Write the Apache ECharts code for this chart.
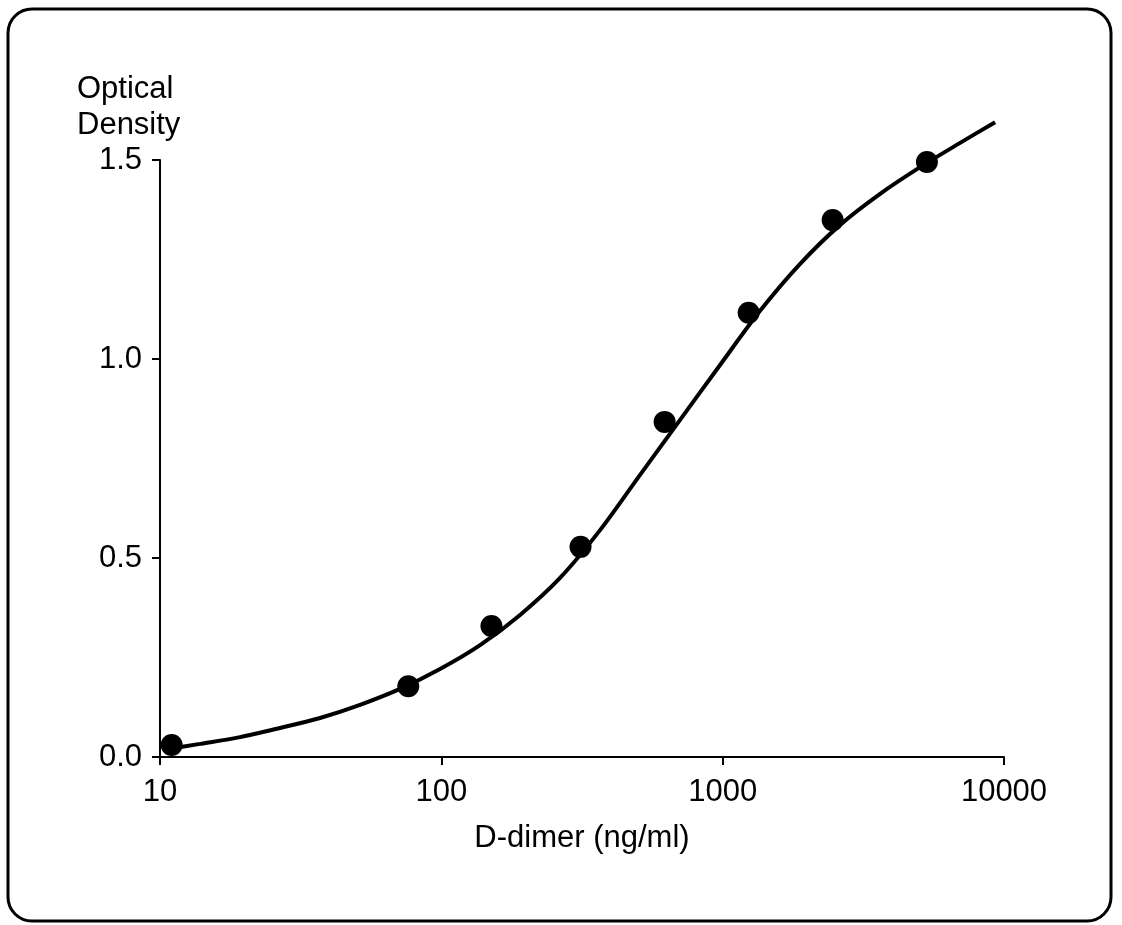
<!DOCTYPE html>
<html>
<head>
<meta charset="utf-8">
<style>
  html, body { margin: 0; padding: 0; background: #ffffff; }
  #chart { width: 1122px; height: 925px; }
</style>
<script src="https://cdn.jsdelivr.net/npm/echarts@6/dist/echarts.min.js"></script>
</head>
<body>
<div id="chart"></div>
<script>
// Measured standards: D-dimer concentration (ng/ml) and optical density
const standardConc = [11.0, 76.3, 150.7, 312.4, 621.9, 1237, 2460, 5321];
const standardOD   = [0.030, 0.178, 0.329, 0.528, 0.842, 1.116, 1.349, 1.495];

// Fitted calibration curve, traced point by point
const curveConc = [10.25, 13.87, 19.25, 26.71, 37.05, 51.41, 71.33, 98.95, 137.3, 190.5, 264.2, 366.6, 508.6, 705.7, 979.0, 1358, 1885, 2615, 3628, 5033, 6983, 9299];
const curveOD   = [0.018, 0.033, 0.050, 0.073, 0.098, 0.131, 0.171, 0.221, 0.281, 0.357, 0.450, 0.570, 0.709, 0.847, 0.985, 1.121, 1.239, 1.337, 1.415, 1.482, 1.543, 1.595];

// Axis ticks
const xTicks = [10, 100, 1000, 10000];
const yTicks = [0, 0.5, 1.0, 1.5];

const FONT = '"Liberation Sans", Arial, Helvetica, sans-serif';
const INK = '#000000';

const chart = echarts.init(document.getElementById('chart'), null, { renderer: 'canvas' });

const pair = (xs, ys) => xs.map((x, i) => [x, ys[i]]);

chart.setOption({
  backgroundColor: '#ffffff',
  animation: false,
  title: {
    text: 'Optical\nDensity',
    left: 72,
    top: 66,
    textStyle: { fontFamily: FONT, fontSize: 31, fontWeight: 'normal', color: INK, lineHeight: 36 }
  },
  graphic: [{
    type: 'rect',
    shape: { x: 8, y: 9, width: 1103, height: 912, r: 24 },
    style: { fill: 'none', stroke: INK, lineWidth: 3 },
    silent: true,
    z: -1
  }],
  grid: { left: 160, right: 118, top: 160, bottom: 168, containLabel: false },
  xAxis: {
    type: 'log',
    logBase: 10,
    min: xTicks[0],
    max: xTicks[xTicks.length - 1],
    name: 'D-dimer (ng/ml)',
    nameLocation: 'middle',
    nameGap: 66,
    nameTextStyle: { fontFamily: FONT, fontSize: 31, color: INK },
    axisLine: { show: true, lineStyle: { color: INK, width: 2 } },
    axisTick: { show: true, length: 8, lineStyle: { color: INK, width: 2 } },
    minorTick: { show: false },
    splitLine: { show: false },
    axisLabel: {
      fontFamily: FONT, fontSize: 31, color: INK, margin: 20,
      formatter: v => String(Math.round(v))
    }
  },
  yAxis: {
    type: 'value',
    min: yTicks[0],
    max: yTicks[yTicks.length - 1],
    interval: 0.5,
    axisLine: { show: true, lineStyle: { color: INK, width: 2 } },
    axisTick: { show: true, length: 8, lineStyle: { color: INK, width: 2 } },
    splitLine: { show: false },
    axisLabel: {
      fontFamily: FONT, fontSize: 31, color: INK, margin: 18,
      formatter: v => v.toFixed(1)
    }
  },
  series: [
    {
      name: 'curve',
      type: 'line',
      data: pair(curveConc, curveOD),
      smooth: 0.3,
      clip: false,
      showSymbol: false,
      lineStyle: { color: INK, width: 4 },
      z: 2
    },
    {
      name: 'standards',
      type: 'scatter',
      data: pair(standardConc, standardOD),
      symbol: 'circle',
      symbolSize: 22,
      itemStyle: { color: INK, opacity: 1 },
      z: 3
    }
  ]
});
</script>
</body>
</html>
